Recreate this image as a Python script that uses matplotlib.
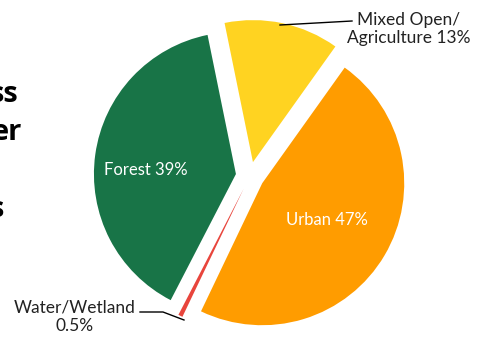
import numpy as np
import matplotlib.pyplot as plt

# land use shares (%)
categories = ['Urban', 'Water/Wetland', 'Forest', 'Mixed Open/\nAgriculture']
shares = [47, 0.5, 39, 13]
colors = ['#FF9C00', '#E8453C', '#187447', '#FFD321']
explode = [0.1, 0.1, 0.1, 0.1]

plt.rcParams['font.family'] = ['Lato', 'DejaVu Sans']

W, H = 484, 339
cx, cy, R = 250, 176, 142   # pie centre and radius in pixels


def px(x, y):
    # pixel position (from top-left) -> data coords
    return (x - cx) / R, (cy - y) / R


fig = plt.figure(figsize=(W / 100, H / 100), dpi=100)
ax = fig.add_axes([0, 0, 1, 1])
ax.pie(shares, colors=colors, explode=explode, startangle=54.5,
       counterclock=False, radius=1, wedgeprops=dict(linewidth=0))
ax.set_aspect('auto')
ax.set_xlim(-cx / R, (W - cx) / R)
ax.set_ylim((cy - H) / R, cy / R)
ax.axis('off')

# slice labels
ax.text(*px(146, 170), 'Forest 39%', color='white', fontsize=12,
        ha='center', va='center')
ax.text(*px(327, 220), 'Urban 47%', color='white', fontsize=12,
        ha='center', va='center')
ax.text(*px(409, 29), 'Mixed Open/\nAgriculture 13%', color='#222222',
        fontsize=12.5, ha='center', va='center', linespacing=1.2)
ax.text(*px(75, 317), 'Water/Wetland\n0.5%', color='#222222',
        fontsize=12.5, ha='center', va='center', linespacing=1.2)

# leader lines
lx, ly = zip(px(280, 25), px(352, 21))
ax.plot(lx, ly, color='black', lw=1)
lx, ly = zip(px(140, 312), px(163, 312), px(184, 320))
ax.plot(lx, ly, color='black', lw=1)

# slide title, cut off by the left edge of the picture (as in the source)
title_bits = ['ss', 'er', 's']
title_right = [18, 22, 4]
title_y = [94, 132, 209]
for txt, x, y in zip(title_bits, title_right, title_y):
    ax.text(*px(x, y), txt, fontsize=21, fontweight='bold',
            ha='right', va='center', color='black',
            family=['Open Sans', 'DejaVu Sans'])

fig.savefig('out.png', dpi=100)
